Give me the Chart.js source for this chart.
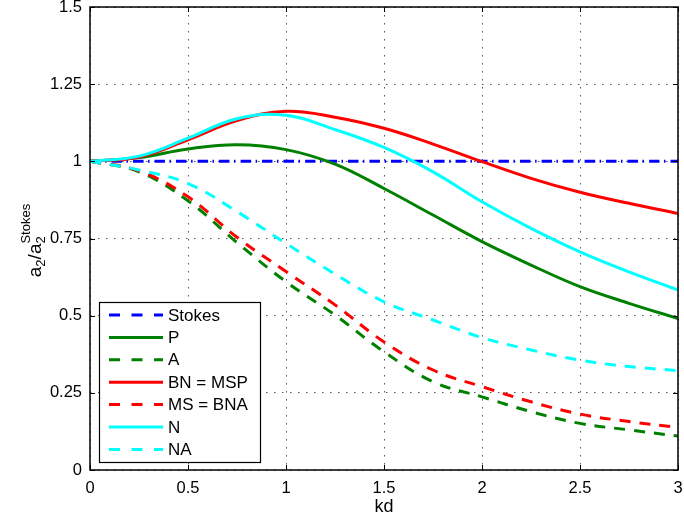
<!DOCTYPE html>
<html><head><meta charset="utf-8">
<script src="https://cdn.jsdelivr.net/npm/chart.js@4.4.1/dist/chart.umd.min.js"></script>
<style>html,body{margin:0;padding:0;background:#fff}#wrap{width:684px;height:518px}</style>
</head><body><div id="wrap"><canvas id="c" width="684" height="518"></canvas></div>
<script>
// ---- data ----
const kd      = [0, 0.25, 0.5, 0.75, 1, 1.25, 1.5, 1.75, 2, 2.25, 2.5, 2.75, 3];
const stokes  = [1, 1, 1, 1, 1, 1, 1, 1, 1, 1, 1, 1, 1];
const pVals   = [1, 1.012, 1.040, 1.054, 1.038, 0.991, 0.912, 0.826, 0.740, 0.664, 0.594, 0.540, 0.491];
const aVals   = [1, 0.966, 0.872, 0.737, 0.610, 0.502, 0.383, 0.286, 0.237, 0.189, 0.151, 0.130, 0.110];
const bnVals  = [1, 1.014, 1.070, 1.132, 1.162, 1.143, 1.107, 1.056, 0.999, 0.945, 0.900, 0.864, 0.831];
const msVals  = [1, 0.969, 0.885, 0.754, 0.643, 0.535, 0.415, 0.324, 0.270, 0.221, 0.181, 0.157, 0.138];
const nVals   = [1, 1.017, 1.075, 1.138, 1.149, 1.103, 1.045, 0.966, 0.869, 0.783, 0.707, 0.642, 0.583];
const naVals  = [1, 0.972, 0.928, 0.837, 0.734, 0.635, 0.545, 0.486, 0.429, 0.389, 0.356, 0.335, 0.322];
const seriesNames = ['Stokes', 'P', 'A', 'BN = MSP', 'MS = BNA', 'N', 'NA'];
const xTickLabels = ['0', '0.5', '1', '1.5', '2', '2.5', '3'];
const yTickLabels = ['0', '0.25', '0.5', '0.75', '1', '1.25', '1.5'];
const xTitle = 'kd';

// ---- styles ----
const seriesValues = [stokes, pVals, aVals, bnVals, msVals, nVals, naVals];
const colors = ['#0000ff', '#008000', '#008000', '#ff0000', '#ff0000', '#00ffff', '#00ffff'];
const DASH = [11, 9], DASHDOT = [10.5, 4.5, 1.5, 5];
const dashes = [DASHDOT, [], DASH, [], DASH, [], DASH];
const FONT = '"Liberation Sans", Arial, Helvetica, sans-serif';

const datasets = seriesValues.map((vals, i) => ({
  label: seriesNames[i],
  data: kd.map((x, j) => ({x: x, y: vals[j]})),
  borderColor: colors[i],
  backgroundColor: colors[i],
  borderDash: dashes[i],
  borderWidth: 3,
  borderCapStyle: 'butt',
  pointRadius: 0,
  tension: 0.4,
  fill: false,
  order: seriesNames.length - i
}));

const framePlugin = {
  id: 'frame',
  afterDatasetsDraw(chart) {
    const {ctx, chartArea: a, scales: {x, y}} = chart;
    ctx.save();
    ctx.strokeStyle = '#000';
    ctx.lineWidth = 1;
    ctx.setLineDash([]);
    ctx.beginPath();
    const L = 5;
    x.ticks.forEach(t => {
      const px = Math.round(x.getPixelForValue(t.value)) + 0.5;
      ctx.moveTo(px, a.bottom); ctx.lineTo(px, a.bottom - L);
      ctx.moveTo(px, a.top); ctx.lineTo(px, a.top + L);
    });
    y.ticks.forEach(t => {
      const py = Math.round(y.getPixelForValue(t.value)) + 0.5;
      ctx.moveTo(a.left, py); ctx.lineTo(a.left + L, py);
      ctx.moveTo(a.right, py); ctx.lineTo(a.right - L, py);
    });
    ctx.stroke();
    ctx.lineWidth = 1.5;
    ctx.strokeRect(a.left, a.top, a.right - a.left, a.bottom - a.top);
    ctx.restore();
  },
  afterDraw(chart) {
    const {ctx, chartArea: a} = chart;
    // legend
    ctx.save();
    const bx = a.left + 9, bw = 161, bh = 160;
    const by = a.bottom - 8 - bh;
    ctx.fillStyle = '#fff';
    ctx.fillRect(bx, by, bw, bh);
    ctx.strokeStyle = '#000';
    ctx.lineWidth = 1.2;
    ctx.setLineDash([]);
    ctx.strokeRect(bx + 0.5, by + 0.5, bw, bh);
    ctx.font = '17px ' + FONT;
    ctx.textBaseline = 'middle';
    chart.data.datasets.forEach((ds, i) => {
      const cy = by + 13 + i * 22.4;
      ctx.beginPath();
      ctx.strokeStyle = ds.borderColor;
      ctx.lineWidth = 3;
      ctx.lineCap = 'butt';
      ctx.setLineDash(ds.borderDash.length ? [11, 11.5] : []);
      ctx.moveTo(bx + 10, cy);
      ctx.lineTo(bx + 64, cy);
      ctx.stroke();
      ctx.setLineDash([]);
      ctx.fillStyle = '#000';
      ctx.fillText(ds.label, bx + 69, cy + 1);
    });
    ctx.restore();

    // y axis title: a_2/a_2^Stokes
    ctx.save();
    const cx = 41, cyy = (a.top + a.bottom) / 2 + 2;
    ctx.translate(cx, cyy);
    ctx.rotate(-Math.PI / 2);
    ctx.fillStyle = '#000';
    ctx.textBaseline = 'alphabetic';
    const big = '19px ' + FONT, small = '13px ' + FONT;
    const pieces = [
      {t: 'a', f: big, dy: 0},
      {t: '2', f: small, dy: 4},
      {t: '/a', f: big, dy: 0}
    ];
    let w = 0;
    pieces.forEach(p => { ctx.font = p.f; p.w = ctx.measureText(p.t).width; w += p.w; });
    ctx.font = small;
    const w2 = ctx.measureText('2').width, wS = ctx.measureText('Stokes').width;
    w += Math.max(w2, wS);
    let xx = -w / 2;
    pieces.forEach(p => { ctx.font = p.f; ctx.fillText(p.t, xx, p.dy); xx += p.w; });
    ctx.font = small;
    ctx.fillText('2', xx, 4);
    ctx.fillText('Stokes', xx, -11);
    ctx.restore();
  }
};

new Chart(document.getElementById('c'), {
  type: 'line',
  data: {datasets: datasets},
  plugins: [framePlugin],
  options: {
    responsive: false,
    animation: false,
    devicePixelRatio: 1,
    layout: {padding: {top: 7, right: 6, left: 0, bottom: 0}},
    plugins: {legend: {display: false}, tooltip: {enabled: false}},
    scales: {
      x: {
        type: 'linear', min: 0, max: 3,
        afterFit: s => { s.height = 48; s.paddingLeft = 0; s.paddingRight = 0; },
        ticks: {stepSize: 0.5, color: '#000', padding: 9, maxRotation: 0,
          font: {family: FONT, size: 16.5},
          callback: (v, i) => xTickLabels[i]},
        grid: {color: '#555', lineWidth: 1, drawTicks: false},
        border: {display: false, dash: [1.5, 6.5]},
        title: {display: true, text: xTitle, color: '#000', font: {family: FONT, size: 18}, padding: {top: 0, bottom: 0}}
      },
      y: {
        type: 'linear', min: 0, max: 1.5,
        afterFit: s => { s.width = 90; s.paddingTop = 0; s.paddingBottom = 0; },
        ticks: {stepSize: 0.25, color: '#000', padding: 8,
          font: {family: FONT, size: 16.5},
          callback: (v, i) => yTickLabels[i]},
        grid: {color: '#555', lineWidth: 1, drawTicks: false},
        border: {display: false, dash: [1.5, 6.5]}
      }
    }
  }
});
</script></body></html>
